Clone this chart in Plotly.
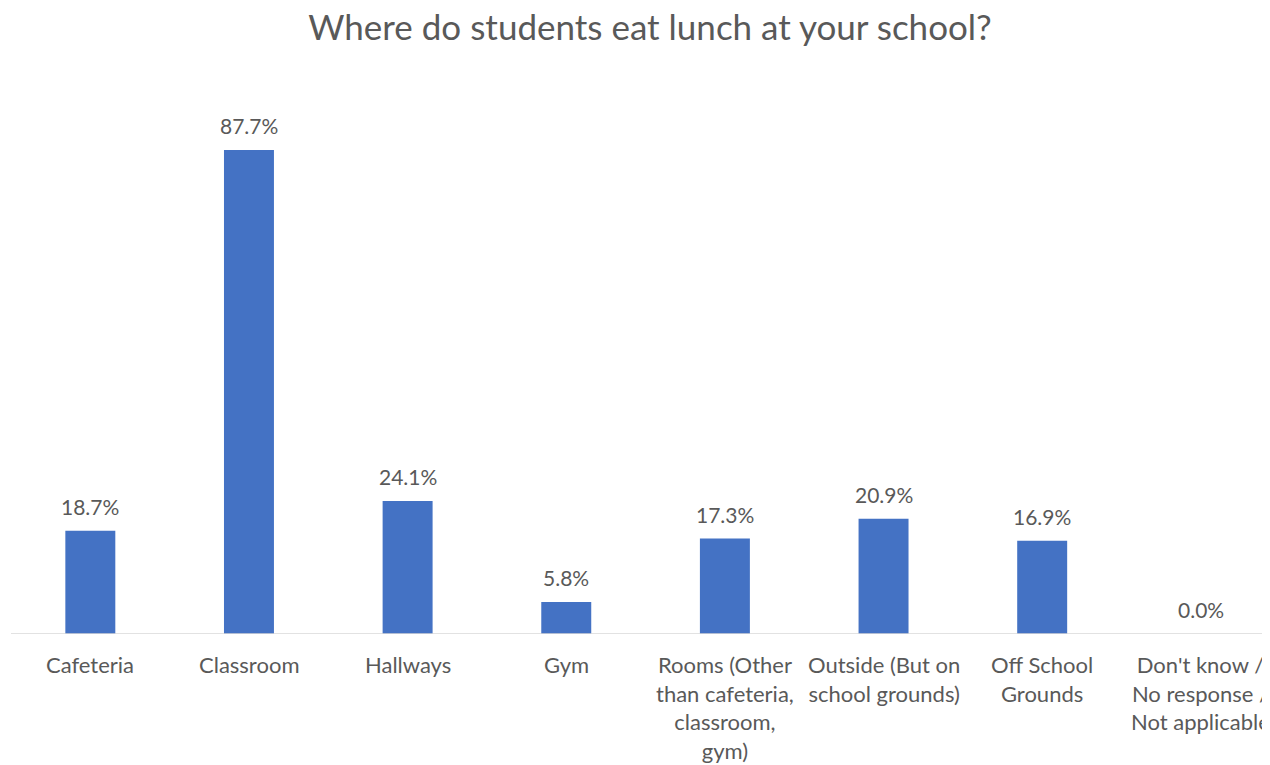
import plotly.graph_objects as go

categories = ["Cafeteria", "Classroom", "Hallways", "Gym",
              "Rooms (Other<br>than cafeteria,<br>classroom,<br>gym)",
              "Outside (But on<br>school grounds)",
              "Off School<br>Grounds",
              "Don't know /<br>No response /<br>Not applicable"]
values = [18.7, 87.7, 24.1, 5.8, 17.3, 20.9, 16.9, 0.0]

xs = list(range(len(categories)))
BAR = "#4472C4"
TXT = "#595959"
FONT = "Lato"

# page body has an 8px margin; size figure so it fills the window exactly
W, H = 1262, 757

fig = go.Figure()
fig.add_trace(go.Bar(x=xs, y=values, width=0.315, marker=dict(color=BAR, line=dict(width=0)),
                     hoverinfo="skip"))

for x, v in zip(xs, values):
    fig.add_annotation(x=x, y=v, text=f"{v:.1f}%", showarrow=False, yanchor="bottom",
                       yshift=10, font=dict(family=FONT, size=21, color=TXT))

# category labels as annotations (last one runs past the right edge, like the reference)
for x, c in zip(xs, categories):
    fig.add_annotation(x=x, y=0, text=c, showarrow=False, yanchor="top", xanchor="center",
                       yshift=-15, align="center",
                       font=dict(family=FONT, size=22, color=TXT))

fig.update_layout(
    width=W, height=H,
    margin=dict(l=2.6, r=0, t=74, b=131),
    paper_bgcolor="white", plot_bgcolor="white",
    showlegend=False,
    title=dict(text="Where do students eat lunch at your school?", x=(650 - 8) / W, xanchor="center",
               y=1 - 20 / H, yanchor="middle",
               font=dict(family=FONT, size=35, color=TXT)),
    xaxis=dict(range=[-0.5, 7.436], showticklabels=False,
               showgrid=False, zeroline=False, showline=False, ticks=""),
    yaxis=dict(range=[0, 100], visible=False, showgrid=False, zeroline=False),
    shapes=[dict(type="line", xref="paper", yref="y", x0=0, x1=1, y0=0, y1=0,
                 line=dict(color="#D9D9D9", width=1.5), layer="above")],
)

fig.write_html("out.html")
